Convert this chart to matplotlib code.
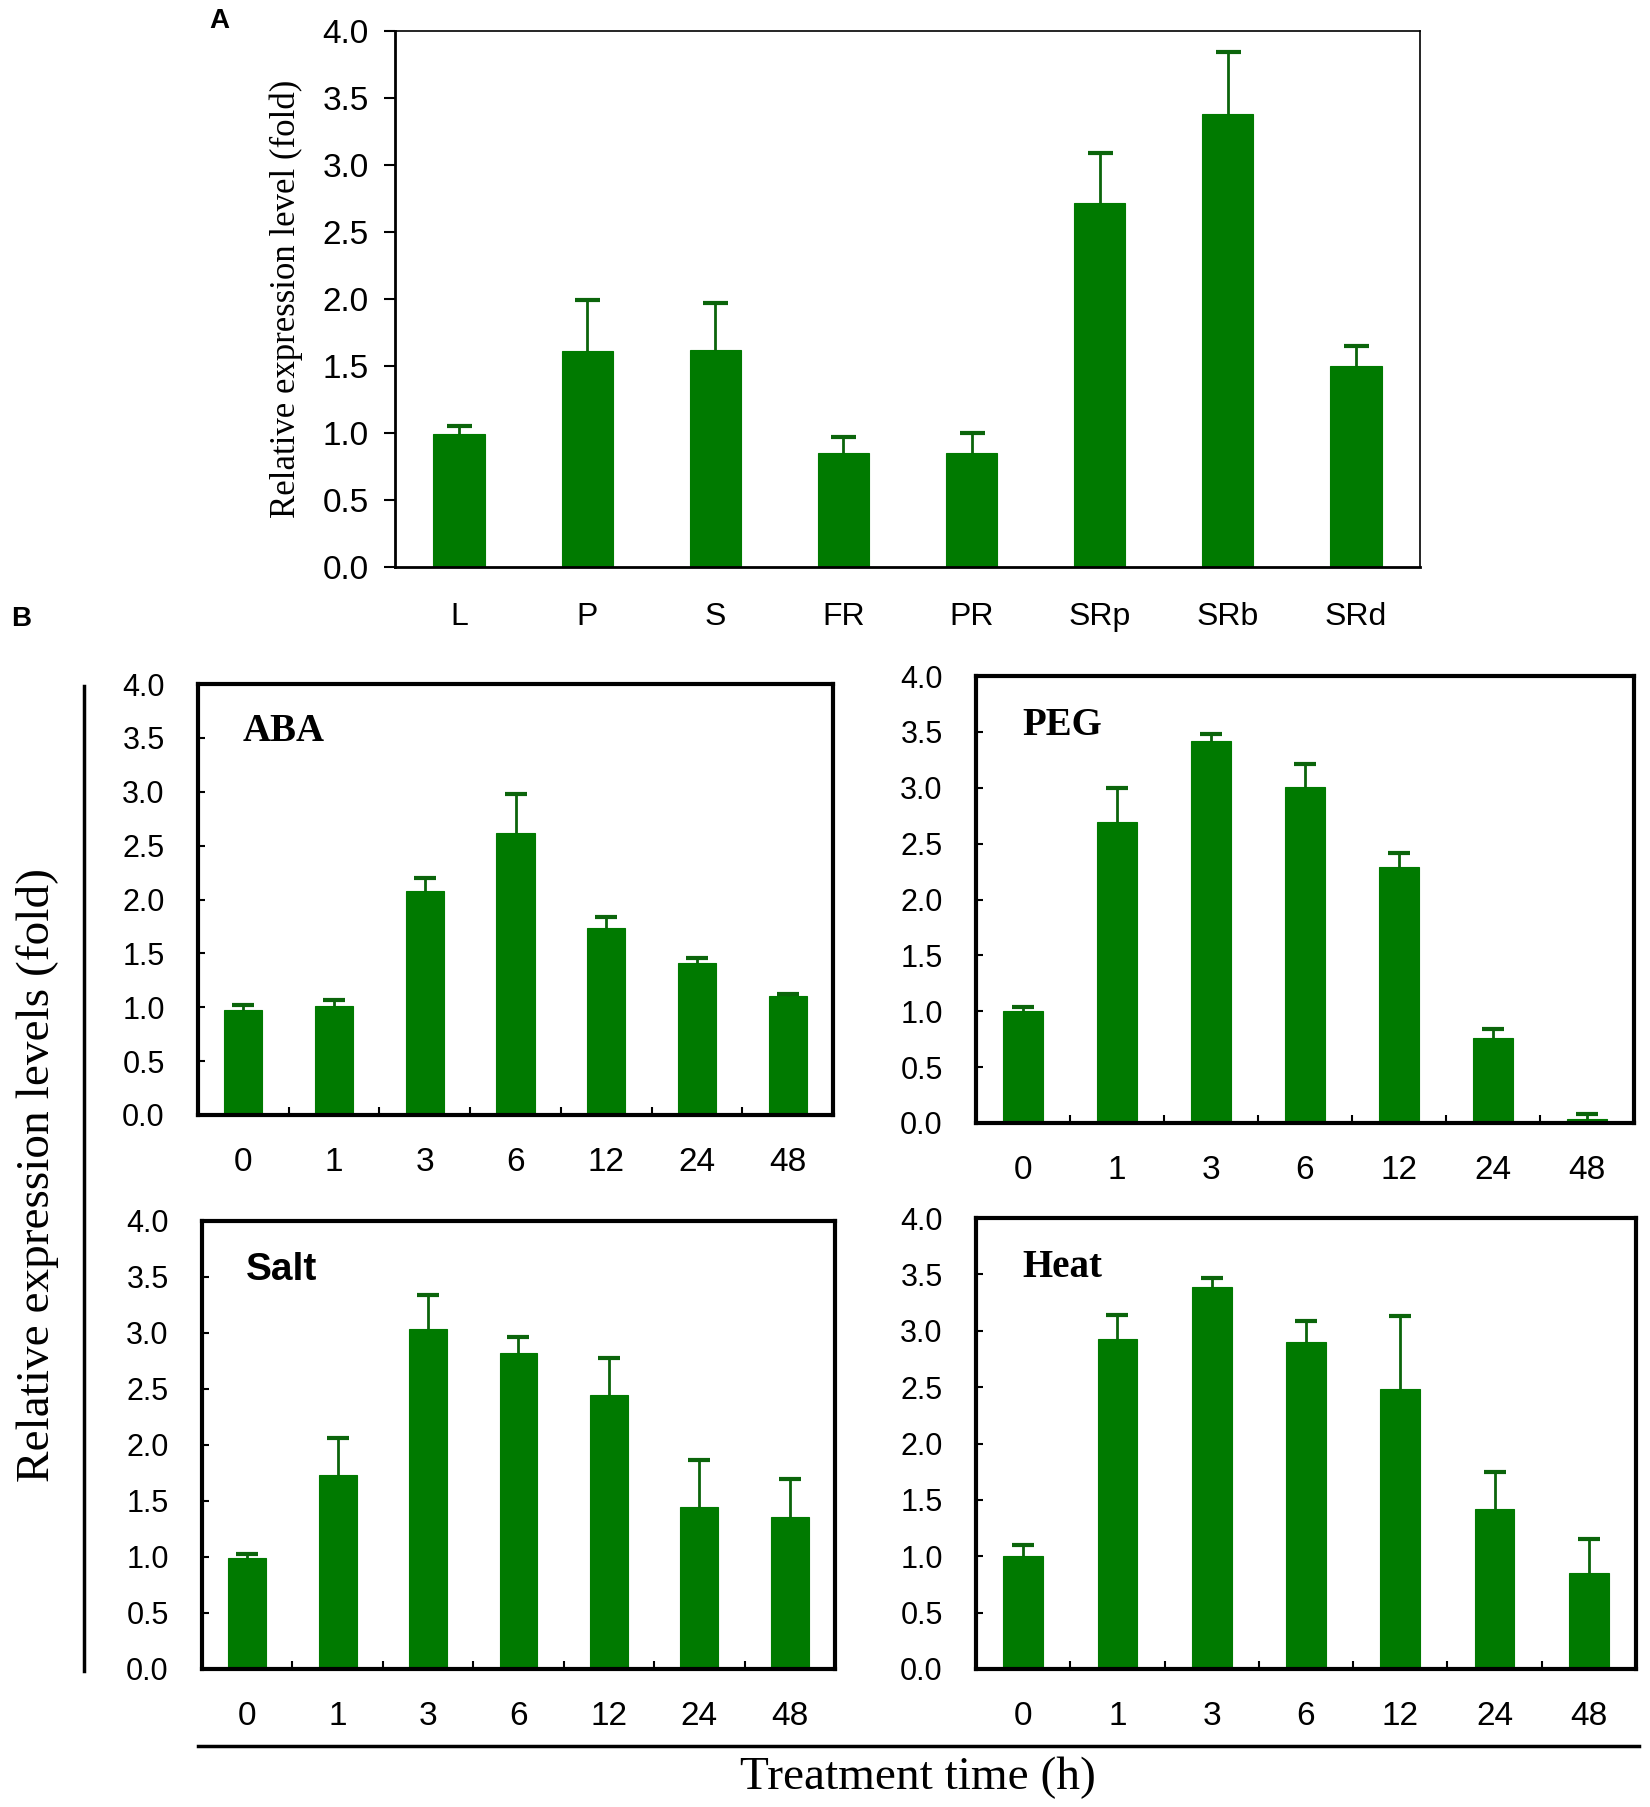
import numpy as np
import matplotlib
matplotlib.use("Agg")
import matplotlib.pyplot as plt
from matplotlib.lines import Line2D

# tissue data (panel A)
tissues = ['L', 'P', 'S', 'FR', 'PR', 'SRp', 'SRb', 'SRd']
tissue_mean = [0.99, 1.61, 1.62, 0.85, 0.85, 2.72, 3.38, 1.50]
tissue_err = [0.06, 0.38, 0.35, 0.12, 0.15, 0.37, 0.46, 0.15]

# treatment time course (panel B)
hours = ['0', '1', '3', '6', '12', '24', '48']
aba_mean = [0.97, 1.01, 2.08, 2.62, 1.74, 1.41, 1.10]
aba_err = [0.05, 0.06, 0.12, 0.36, 0.10, 0.05, 0.02]
peg_mean = [1.00, 2.69, 3.42, 3.01, 2.29, 0.76, 0.04]
peg_err = [0.04, 0.31, 0.06, 0.20, 0.13, 0.08, 0.04]
salt_mean = [0.99, 1.73, 3.04, 2.82, 2.45, 1.45, 1.36]
salt_err = [0.04, 0.33, 0.30, 0.14, 0.33, 0.42, 0.34]
heat_mean = [1.00, 2.93, 3.39, 2.90, 2.48, 1.42, 0.85]
heat_err = [0.10, 0.21, 0.08, 0.19, 0.65, 0.33, 0.30]

green = '#007a00'
dgreen = '#0b650b'
sans = 'Liberation Sans'
serif = 'Liberation Serif'

W, H = 1650, 1807
fig = plt.figure(figsize=(W / 100, H / 100), dpi=100)


def px(l, t, r, b):
    return [l / W, 1 - b / H, (r - l) / W, (b - t) / H]


def bars(ax, x, mean, err, width, capsize):
    ax.bar(x, mean, width=width, color=green, edgecolor=green, linewidth=0.8)
    line, caps, cols = ax.errorbar(x, mean, yerr=[np.zeros(len(x)), err], fmt='none',
                                   ecolor=dgreen, elinewidth=2, capsize=capsize,
                                   capthick=3)
    # only the upper cap is drawn in the original
    for c in caps:
        if np.allclose(c.get_ydata(), mean):
            c.set_visible(False)


# ---- panel A ----
axA = fig.add_axes(px(395, 31, 1420, 567))
x = np.arange(len(tissues))
bars(axA, x, tissue_mean, tissue_err, 0.4, 9)
axA.set_xlim(-0.5, 7.5)
axA.set_ylim(0, 4)
yt = np.arange(0, 4.01, 0.5)
axA.set_yticks(yt)
axA.set_yticklabels(['%.1f' % v for v in yt], fontfamily=sans, fontsize=24)
axA.set_xticks(x)
axA.set_xticklabels(tissues, fontfamily=sans, fontsize=23)
axA.tick_params(axis='y', direction='out', length=8, width=1.5, pad=11)
axA.tick_params(axis='x', length=0, pad=25)
for s in ['top', 'right']:
    axA.spines[s].set_linewidth(1.2)
for s in ['left', 'bottom']:
    axA.spines[s].set_linewidth(2)
axA.set_ylabel('Relative expression level (fold)', fontfamily=serif,
               fontsize=25, labelpad=14)

# ---- panel B ----
panels = [
    ('ABA', aba_mean, aba_err, px(198, 684, 833, 1115), serif),
    ('PEG', peg_mean, peg_err, px(976, 676, 1634, 1123), serif),
    ('Salt', salt_mean, salt_err, px(202, 1221, 835, 1669), sans),
    ('Heat', heat_mean, heat_err, px(976, 1218, 1636, 1669), serif),
]
xb = np.arange(len(hours))
for name, mean, err, rect, tfont in panels:
    ax = fig.add_axes(rect)
    bars(ax, xb, mean, err, 0.42, 8)
    ax.set_xlim(-0.5, 6.5)
    ax.set_ylim(0, 4)
    ax.set_yticks(yt)
    ax.set_yticklabels(['%.1f' % v for v in yt], fontfamily=sans, fontsize=22)
    ax.set_xticks(xb)
    ax.set_xticklabels(hours, fontfamily=sans, fontsize=24)
    ax.set_xticks(np.arange(0.5, 6.0, 1.0), minor=True)
    ax.tick_params(axis='y', direction='in', length=5, width=1.5, pad=24)
    ax.tick_params(axis='x', which='major', length=0, pad=23)
    ax.tick_params(axis='x', which='minor', direction='in', length=6, width=1.5)
    for s in ax.spines.values():
        s.set_linewidth(3)
    ax.text(0.07, 0.89, name, transform=ax.transAxes, fontfamily=tfont,
            fontweight='bold', fontsize=28, ha='left', va='center')

# shared labels and lines of panel B
fig.add_artist(Line2D([84 / W, 84 / W], [1 - 686 / H, 1 - 1671 / H],
                      color='black', linewidth=2.5))
fig.add_artist(Line2D([198 / W, 1639 / W], [1 - 1746 / H, 1 - 1746 / H],
                      color='black', linewidth=2.5))
fig.text(38 / W, 1 - 1175 / H, 'Relative expression levels (fold)',
         fontfamily=serif, fontsize=34, rotation=90, ha='center', va='center')
fig.text(918 / W, 1 - 1778 / H, 'Treatment time (h)', fontfamily=serif,
         fontsize=34, ha='center', va='center')

fig.text(219 / W, 1 - 21 / H, 'A', fontfamily=sans, fontweight='bold',
         fontsize=20, ha='center', va='center')
fig.text(21 / W, 1 - 619 / H, 'B', fontfamily=sans, fontweight='bold',
         fontsize=20, ha='center', va='center')

fig.savefig('out.png', dpi=100)
